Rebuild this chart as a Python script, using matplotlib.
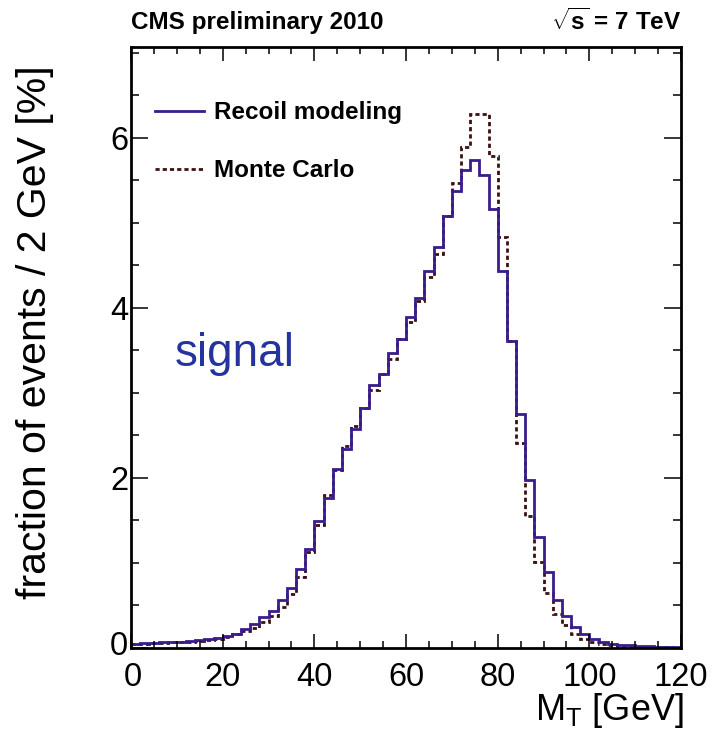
#!/usr/bin/env python

import matplotlib
matplotlib.use("Agg")
import matplotlib.pyplot as plt
import matplotlib.transforms as mtransforms
from matplotlib.lines import Line2D
import numpy as np

# fraction of events per 2 GeV bin, M_T from 0 to 120 GeV
recoil = [0.05, 0.055, 0.06, 0.065, 0.07, 0.075, 0.08, 0.09, 0.10, 0.12,
          0.14, 0.17, 0.22, 0.28, 0.36, 0.44, 0.57, 0.70, 0.93, 1.16,
          1.49, 1.76, 2.11, 2.34, 2.58, 2.82, 3.09, 3.22, 3.47, 3.64,
          3.89, 4.12, 4.44, 4.72, 5.08, 5.38, 5.62, 5.74, 5.56, 5.16,
          4.44, 3.61, 2.75, 1.98, 1.31, 0.89, 0.57, 0.38, 0.25, 0.17,
          0.11, 0.075, 0.05, 0.04, 0.03, 0.025, 0.02, 0.015, 0.012, 0.01]
monte_carlo = [0.05, 0.05, 0.055, 0.06, 0.065, 0.07, 0.075, 0.08, 0.09, 0.11,
               0.13, 0.16, 0.20, 0.24, 0.30, 0.38, 0.48, 0.64, 0.84, 1.13,
               1.45, 1.80, 2.09, 2.38, 2.61, 2.82, 3.03, 3.22, 3.40, 3.64,
               3.83, 4.08, 4.36, 4.63, 5.08, 5.47, 5.89, 6.28, 6.28, 5.79,
               4.83, 3.61, 2.41, 1.55, 1.01, 0.65, 0.40, 0.27, 0.17, 0.11,
               0.07, 0.05, 0.035, 0.025, 0.018, 0.013, 0.01, 0.008, 0.006, 0.005]
bin_width = 2
x_ticks = [0, 20, 40, 60, 80, 100, 120]
y_ticks = [0, 2, 4, 6]

edges = np.arange(0, 120 + bin_width, bin_width)

plt.rcParams['font.family'] = ['Liberation Sans', 'DejaVu Sans']
plt.rcParams['mathtext.fontset'] = 'custom'
plt.rcParams['mathtext.rm'] = 'Liberation Sans'
plt.rcParams['mathtext.bf'] = 'Liberation Sans:bold'

fig = plt.figure(figsize=(7.13, 7.34), dpi=100)
ax = fig.add_axes([131 / 713, 1 - 648 / 734, 550 / 713, 601 / 734])

purple = "#3a1c8c"
brown = "#3d1010"
ax.stairs(monte_carlo, edges, baseline=None, color=brown, lw=2,
          linestyle=(0, (1.5, 1.1)))
ax.stairs(recoil, edges, baseline=None, color=purple, lw=2)

ax.set_xlim(0, 120)
ax.set_ylim(0, 7.07)
ax.set_xticks(x_ticks)
ax.set_xticks(np.arange(0, 121, 5), minor=True)
ax.set_yticks(y_ticks)
ax.set_yticks(np.arange(0, 7.01, 0.5), minor=True)
ax.tick_params(which='both', direction='in', top=True, right=True, width=1.1)
ax.tick_params(axis='x', which='major', length=10, labelsize=23.5, pad=10)
ax.tick_params(axis='x', which='minor', length=5)
ax.tick_params(axis='y', which='major', length=12, labelsize=23.5, pad=2)
ax.tick_params(axis='y', which='minor', length=6)
for s in ax.spines.values():
    s.set_linewidth(2)

# the two "0" labels sit close in the corner; nudge them apart a little
fig.canvas.draw()
ylab0 = ax.get_yticklabels()[0]
ylab0.set_transform(ylab0.get_transform() +
                    mtransforms.ScaledTranslation(0, 5 / 100, fig.dpi_scale_trans))
xlab0 = ax.get_xticklabels()[0]
xlab0.set_transform(xlab0.get_transform() +
                    mtransforms.ScaledTranslation(2 / 100, 0, fig.dpi_scale_trans))

ax.set_xlabel(r"M$_\mathregular{T}$ [GeV]", fontsize=26, loc='right')
ax.xaxis.set_label_coords(1.005, -0.072)
ax.set_ylabel("fraction of events / 2 GeV [%]", fontsize=29.5)
ax.yaxis.set_label_coords(-0.14, 0.525)

handles = [Line2D([], [], color=purple, lw=2),
           Line2D([], [], color=brown, lw=2, linestyle=(0, (1.5, 1.1)))]
leg = ax.legend(handles, ["Recoil modeling", "Monte Carlo"], loc='upper left',
                bbox_to_anchor=(0.043, 0.91), frameon=False, borderpad=0,
                borderaxespad=0, handlelength=2.05, handletextpad=0.4,
                labelspacing=1.45, prop={'weight': 'bold', 'size': 17.5})

ax.text(0.08, 0.49, "signal", transform=ax.transAxes, fontsize=33,
        color="#24349c", va='center', ha='left')

fig.text(131 / 713, 1 - 22 / 734, "CMS preliminary 2010", fontsize=17.5,
         fontweight='bold', ha='left', va='center')
fig.text(681 / 713, 1 - 22 / 734, r"$\sqrt{\mathbf{s}}$ = 7 TeV", fontsize=17.5,
         fontweight='bold', ha='right', va='center')

fig.savefig("out.png", dpi=100)
